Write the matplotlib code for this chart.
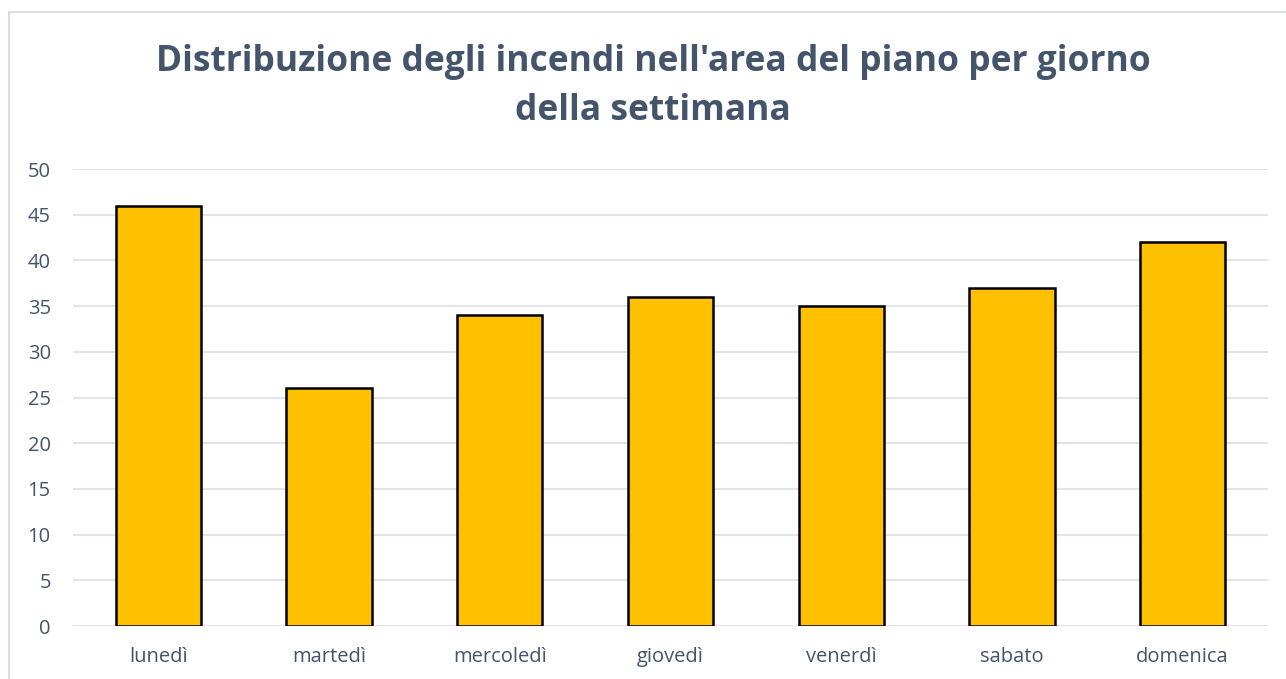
import matplotlib.pyplot as plt
from matplotlib.patches import Rectangle

giorni = ['lunedì', 'martedì', 'mercoledì', 'giovedì', 'venerdì', 'sabato', 'domenica']
incendi = [46, 26, 34, 36, 35, 37, 42]
yticks = [0, 5, 10, 15, 20, 25, 30, 35, 40, 45, 50]

testo = '#44546A'
griglia = '#E1E5EA'

plt.rcParams['font.family'] = ['Open Sans', 'DejaVu Sans']

fig = plt.figure(figsize=(12.86, 6.79), dpi=100)
ax = fig.add_axes([73 / 1286, 1 - 626 / 679, (1268 - 73) / 1286, (626 - 169) / 679])

# cornice del grafico
fig.patches.append(Rectangle((9 / 1286, -0.1), 1.2, 1 - 12 / 679 + 0.1,
                             transform=fig.transFigure, fill=False,
                             edgecolor='#D9DEE5', linewidth=1.5))

x = range(len(giorni))
ax.bar(x, incendi, width=0.5, color='#FFC000', edgecolor='black', linewidth=1.8, zorder=3)

ax.set_xlim(-0.5, len(giorni) - 0.5)
ax.set_ylim(0, 50)
ax.set_yticks(yticks)
ax.set_xticks(list(x))
ax.set_xticklabels(giorni)
ax.grid(axis='y', color=griglia, linewidth=1.5, zorder=0)
for s in ax.spines.values():
    s.set_visible(False)
ax.tick_params(length=0, labelsize=14.5, labelcolor=testo)
ax.tick_params(axis='y', pad=16)
ax.tick_params(axis='x', pad=15)

fig.suptitle("Distribuzione degli incendi nell'area del piano per giorno\ndella settimana",
             x=653 / 1286, y=1 - 44 / 679, va='top', fontsize=25.5, fontweight='bold',
             color=testo, linespacing=1.5)

fig.savefig('out.png', dpi=100)
